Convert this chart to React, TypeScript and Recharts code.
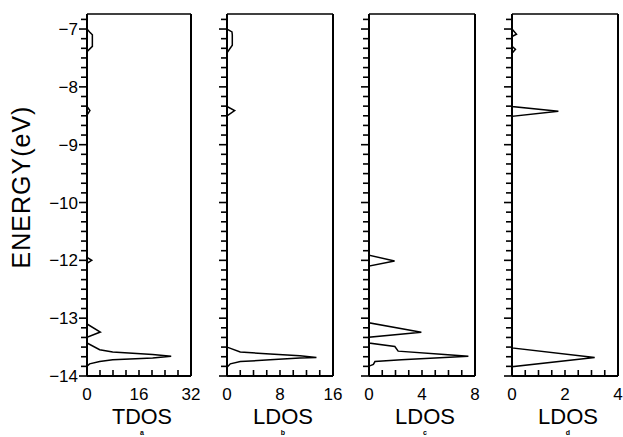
import { LineChart, Line, XAxis, YAxis, ReferenceLine } from "recharts";

// y axis: tick positions and the labels printed on them (the figure skips -11)
const AXIS_POS = [-7, -8, -9, -10, -11, -12, -13];
const ENERGY_LABELS = ["−7", "−8", "−9", "−10", "−12", "−13", "−14"];
const Y_TOP = -6.74;
const Y_BOTTOM = -13;

// [energy (eV, as labelled), density of states]
const tdos = [
  [-6.74, 0], [-7.0, 0], [-7.05, 0.8], [-7.1, 1.65], [-7.3, 1.65], [-7.39, 0],
  [-8.34, 0], [-8.41, 0.9], [-8.49, 0],
  [-11.95, 0], [-12.0, 1.45], [-12.05, 0],
  [-13.1, 0], [-13.24, 4.1], [-13.33, 0],
  [-13.43, 0], [-13.545, 3.9], [-13.585, 7.9], [-13.63, 20.2], [-13.66, 25.9],
  [-13.69, 20.2], [-13.72, 7.9], [-13.75, 3.9], [-13.79, 0.8], [-13.83, 0], [-14, 0],
];

const ldosB = [
  [-6.74, 0], [-7.0, 0], [-7.05, 0.75], [-7.1, 0.8], [-7.28, 0.8], [-7.41, 0],
  [-8.34, 0], [-8.41, 1.15], [-8.5, 0],
  [-13.5, 0], [-13.585, 2.0], [-13.62, 6.5], [-13.65, 11.0], [-13.68, 13.5],
  [-13.69, 11.0], [-13.72, 6.5], [-13.75, 2.0], [-13.79, 0.5], [-13.85, 0], [-14, 0],
];

const ldosC = [
  [-6.74, 0], [-11.91, 0], [-12.01, 1.93], [-12.1, 0],
  [-13.08, 0], [-13.245, 3.95], [-13.33, 0],
  [-13.43, 0], [-13.49, 1.95], [-13.57, 2.2], [-13.63, 5.7], [-13.66, 7.5],
  [-13.68, 5.7], [-13.72, 2.45], [-13.75, 0.45], [-13.8, 0.33], [-13.83, 0], [-14, 0],
];

const ldosD = [
  [-6.74, 0], [-7.0, 0], [-7.09, 0.17], [-7.13, 0],
  [-7.3, 0], [-7.35, 0.13], [-7.42, 0],
  [-8.34, 0], [-8.42, 1.75], [-8.51, 0],
  [-13.515, 0], [-13.68, 3.12], [-13.84, 0], [-14, 0],
];

const panels = [
  { title: "TDOS", letter: "a", max: 32, data: tdos, left: 0, yw: 87, w: 104 },
  { title: "LDOS", letter: "b", max: 16, data: ldosB, left: 207, yw: 20, w: 106 },
  { title: "LDOS", letter: "c", max: 8, data: ldosC, left: 349, yw: 20, w: 106 },
  { title: "LDOS", letter: "d", max: 4, data: ldosD, left: 492, yw: 20, w: 106 },
];

const FONT = "'Liberation Sans', Arial, sans-serif";
const H = 437;
const TOP = 14;
const X_AXIS_H = 61;
const RIGHT = 14;

// the labelled axis jumps from -10 straight to -12
const toAxis = (e: number) => (e <= -11 ? e + 1 : e);

const yTicks: number[] = [];
for (let k = 0; k <= 37; k++) yTicks.push(Y_BOTTOM + k / 6);

const isInt = (v: number) => Math.abs(v - Math.round(v)) < 1e-6;

const YTick = (props: any) => {
  const { x, y, payload, showLabel } = props;
  const v = payload.value;
  const major = isInt(v);
  const idx = AXIS_POS.indexOf(Math.round(v));
  return (
    <g>
      <line x1={x - (major ? 8 : 6)} x2={x} y1={y} y2={y} stroke="#000" strokeWidth={1.6} />
      {showLabel && major && idx >= 0 && (
        <text x={x - 9} y={y + 6} textAnchor="end" fontSize={17} fontFamily={FONT} fill="#000">
          {ENERGY_LABELS[idx]}
        </text>
      )}
    </g>
  );
};

const XTick = (props: any) => {
  const { x, y, payload, max } = props;
  const v = payload.value;
  const labelled = v === 0 || v === max / 2 || v === max;
  return (
    <g>
      <line x1={x} x2={x} y1={y} y2={y - 6} stroke="#000" strokeWidth={1.6} />
      {labelled && (
        <text x={x} y={y + 24} textAnchor="middle" fontSize={17} fontFamily={FONT} fill="#000">
          {v}
        </text>
      )}
    </g>
  );
};

const Panel = ({ p, first }: { p: (typeof panels)[number]; first: boolean }) => {
  const data = p.data.map(([e, v]) => ({ pos: toAxis(e), v }));
  const xTicks = Array.from({ length: 9 }, (_, i) => (p.max / 8) * i);
  const cx = p.yw + p.w / 2;
  return (
    <div style={{ position: "absolute", left: p.left, top: 0 }}>
      <LineChart
        width={p.yw + p.w + RIGHT}
        height={H}
        data={data}
        layout="vertical"
        margin={{ top: TOP, right: RIGHT, bottom: 0, left: 0 }}
      >
        <XAxis
          type="number"
          domain={[0, p.max]}
          ticks={xTicks}
          interval={0}
          height={X_AXIS_H}
          tickSize={0}
          tickMargin={0}
          tickLine={false}
          axisLine={{ stroke: "#000", strokeWidth: 2 }}
          tick={<XTick max={p.max} />}
          label={{
            content: () => (
              <g>
                <text
                  x={cx + 3}
                  y={424}
                  textAnchor="middle"
                  fontSize={22}
                  fontFamily={FONT}
                  textLength={60}
                  lengthAdjust="spacingAndGlyphs"
                  fill="#000"
                >
                  {p.title}
                </text>
                <text x={cx + 3} y={435} textAnchor="middle" fontSize={7} fontWeight="bold" fontFamily={FONT} fill="#000">
                  {p.letter}
                </text>
              </g>
            ),
          }}
        />
        <YAxis
          type="number"
          dataKey="pos"
          domain={[Y_BOTTOM, Y_TOP]}
          reversed
          allowDataOverflow
          ticks={yTicks}
          interval={0}
          width={p.yw}
          tickSize={0}
          tickMargin={0}
          tickLine={false}
          axisLine={{ stroke: "#000", strokeWidth: 2 }}
          tick={<YTick showLabel={first} />}
          label={
            first
              ? {
                  content: () => (
                    <text
                      x={30}
                      y={187}
                      transform="rotate(-90, 30, 187)"
                      textAnchor="middle"
                      fontSize={25}
                      letterSpacing={1}
                      fontFamily={FONT}
                      fill="#000"
                    >
                      ENERGY(eV)
                    </text>
                  ),
                }
              : undefined
          }
        />
        <ReferenceLine x={p.max} stroke="#000" strokeWidth={2} />
        <ReferenceLine y={Y_TOP} stroke="#000" strokeWidth={1.5} />
        <Line
          type="linear"
          dataKey="v"
          stroke="#000"
          strokeWidth={1.5}
          dot={false}
          isAnimationActive={false}
        />
      </LineChart>
    </div>
  );
};

export default function App() {
  return (
    <div style={{ position: "absolute", left: 0, top: 0, width: 623, height: H, background: "#fff" }}>
      {panels.map((p, i) => (
        <Panel key={p.letter} p={p} first={i === 0} />
      ))}
    </div>
  );
}
